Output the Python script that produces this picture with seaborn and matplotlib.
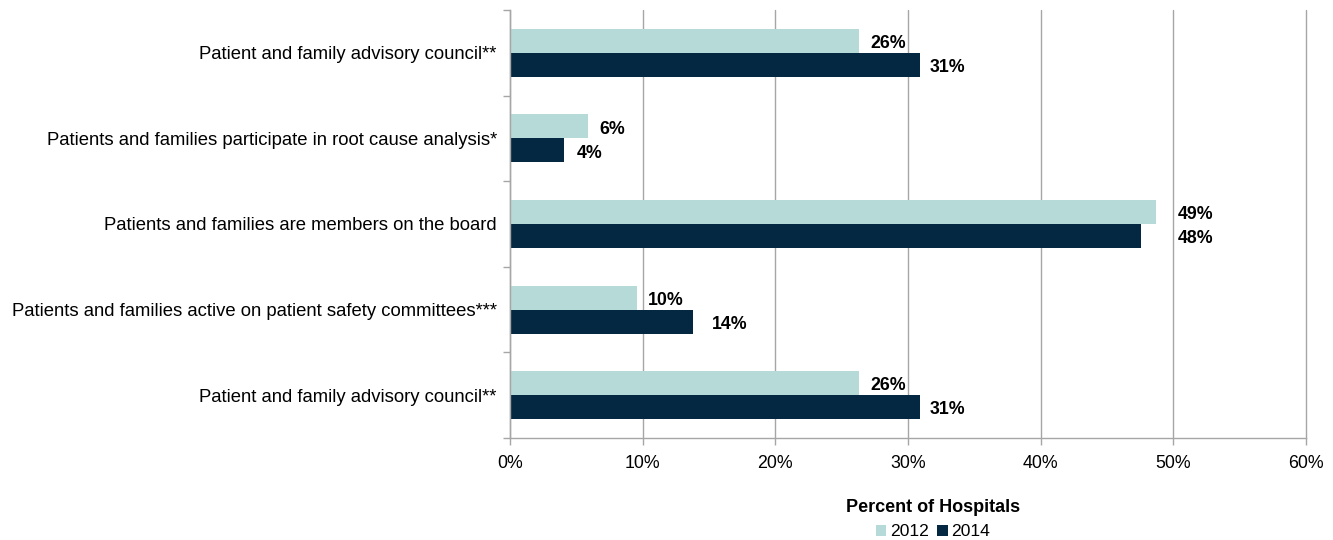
import matplotlib
matplotlib.use("Agg")
import matplotlib.pyplot as plt
import seaborn as sns
import pandas as pd
from matplotlib.ticker import FuncFormatter, FixedLocator
from matplotlib.patches import Patch

categories = [
    "Patient and family advisory council**",
    "Patients and families participate in root cause analysis*",
    "Patients and families are members on the board",
    "Patients and families active on patient safety committees***",
    "Patient and family advisory council**",
]
years = ["2012", "2014"]
values_2012 = [26.3, 5.9, 48.7, 9.6, 26.3]
values_2014 = [30.9, 4.1, 47.6, 13.8, 30.9]
labels_2012 = ["26%", "6%", "49%", "10%", "26%"]
labels_2014 = ["31%", "4%", "48%", "14%", "31%"]
x_ticks = [0, 10, 20, 30, 40, 50, 60]

# style: label offsets in pixels from bar end
pad_2012 = [11, 11, 22, 11, 11]
pad_2014 = [10, 12, 36, 19, 10]

colors = {"2012": "#B6DAD7", "2014": "#042841"}

rows = []
for i, c in enumerate(categories):
    rows.append({"cat": f"{i}", "Year": "2012", "value": values_2012[i]})
    rows.append({"cat": f"{i}", "Year": "2014", "value": values_2014[i]})
df = pd.DataFrame(rows)

sns.set_style("white")
plt.rcParams["font.family"] = ["Liberation Sans", "DejaVu Sans"]
plt.rcParams["text.color"] = "#000000"

fig = plt.figure(figsize=(13.33, 5.4), dpi=100)
ax = fig.add_axes([510 / 1333, 1 - 438 / 540, (1306 - 510) / 1333, (438 - 10) / 540])

sns.barplot(data=df, y="cat", x="value", hue="Year", orient="h",
            palette=colors, width=0.56, ax=ax, legend=False, saturation=1,
            linewidth=0, edgecolor="none")

ax.set_xlim(0, 60)
ax.set_ylim(4.5, -0.5)
ax.xaxis.set_major_locator(FixedLocator(x_ticks))
ax.xaxis.set_major_formatter(FuncFormatter(lambda v, p: f"{int(v)}%"))
ax.set_yticks(range(len(categories)))
ax.set_yticklabels(categories)
ax.yaxis.set_minor_locator(FixedLocator([i - 0.5 for i in range(len(categories) + 1)]))
ax.tick_params(axis="y", which="major", length=0, pad=9.5, labelsize=13.3, labelcolor="#000000")
ax.tick_params(axis="y", which="minor", length=5, width=1, color="#A6A6A6", left=True)
ax.tick_params(axis="x", which="major", length=5, width=1, color="#A6A6A6", bottom=True,
               pad=7, labelsize=12.8, labelcolor="#000000")
ax.set_xlabel("")
ax.set_ylabel("")

ax.grid(axis="x", color="#A6A6A6", linewidth=1)
for gl in ax.get_xgridlines():
    gl.set_clip_on(False)
ax.set_axisbelow(True)
for s in ["top", "right"]:
    ax.spines[s].set_visible(False)
for s in ["left", "bottom"]:
    ax.spines[s].set_color("#A6A6A6")
    ax.spines[s].set_linewidth(1)

# value labels
bar_h = 0.28
for i in range(len(categories)):
    for v, lab, pad, dy in [(values_2012[i], labels_2012[i], pad_2012[i], -bar_h / 2),
                            (values_2014[i], labels_2014[i], pad_2014[i], bar_h / 2)]:
        ax.annotate(lab, xy=(v, i + dy), xytext=(pad * 0.72, -2), textcoords="offset points",
                    ha="left", va="center", fontsize=12.8, fontweight="bold", color="#000000")

handles = [Patch(facecolor=colors[y], edgecolor="none", label=y) for y in years]
leg = fig.legend(handles=handles, loc="center", bbox_to_anchor=(933 / 1333, 1 - 519 / 540),
                 ncol=2, frameon=False, title="Percent of Hospitals",
                 handlelength=0.6, handleheight=0.6, handletextpad=0.2, columnspacing=0.5,
                 fontsize=12.6, title_fontsize=13, labelcolor="#000000")
leg.get_title().set_fontweight("bold")
leg.get_title().set_color("#000000")

fig.savefig("out.png", dpi=100)
